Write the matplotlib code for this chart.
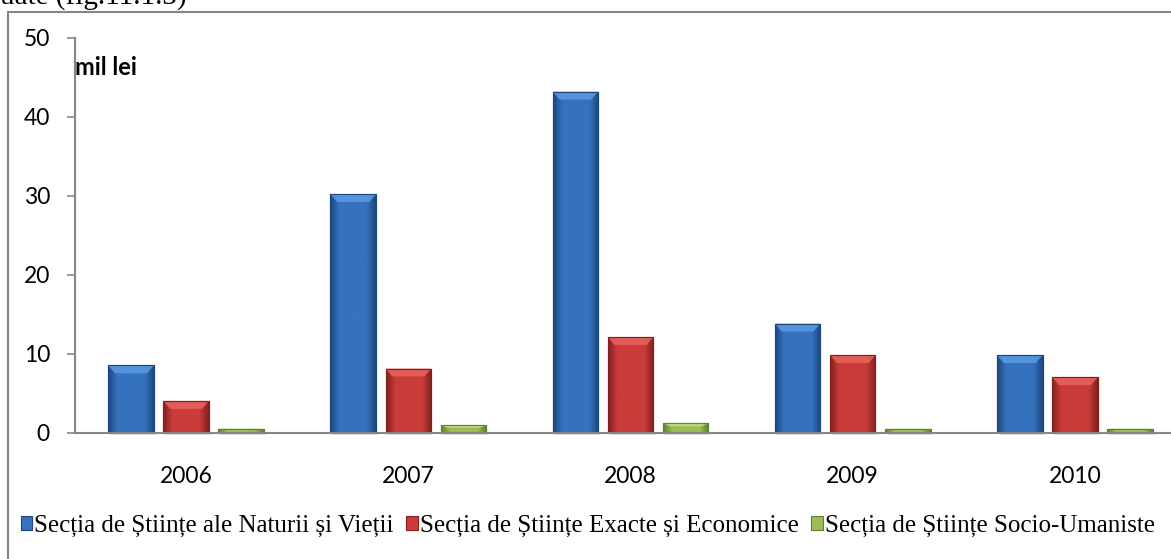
import matplotlib
matplotlib.use("Agg")
import matplotlib.pyplot as plt
import numpy as np
from matplotlib.patches import Rectangle, Polygon
from matplotlib.colors import LinearSegmentedColormap

years = ["2006", "2007", "2008", "2009", "2010"]
naturii = [8.5, 30.2, 43.2, 13.8, 9.8]
exacte = [4.0, 8.1, 12.1, 9.8, 7.0]
socio = [0.5, 0.9, 1.2, 0.5, 0.5]
series_names = ["Secția de Științe ale Naturii și Vieții",
                "Secția de Științe Exacte și Economice",
                "Secția de Științe Socio-Umaniste"]
yticks = [0, 10, 20, 30, 40, 50]

W, H = 1171, 559
fig = plt.figure(figsize=(W / 100, H / 100), dpi=100)
fig.patch.set_facecolor("white")

# outer chart frame (extends past right/bottom edge as in the cropped reference)
fig.add_artist(Rectangle((7.5 / W, -0.05), 1.2, 1 - 12 / H + 0.05,
                         transform=fig.transFigure, fill=False,
                         edgecolor="#868686", linewidth=1.5))
fig.text(0.0, 1 - 5 / H, "uate (fig.11.1.3)", family="Liberation Serif",
         fontsize=21, va="baseline", ha="left", color="black")

ax = fig.add_axes([75 / W, 126.5 / H, 1111 / W, 394.5 / H])
ax.set_xlim(-0.5, 4.5)
ax.set_ylim(0, 50)

colors = [("#5a9be3", "#3672bd", "#1c477f"),
          ("#e9625e", "#c93c3a", "#82201e"),
          ("#c3df7c", "#9cbd58", "#62802d")]
width = 0.205
offsets = [-0.248, 0.0, 0.248]
x = np.arange(len(years))
handles = []
for vals, off, (light, mid, dark), name in zip([naturii, exacte, socio], offsets, colors, series_names):
    bars = ax.bar(x + off, vals, width, color=mid, edgecolor=dark, linewidth=0.8,
                  label=name, zorder=3)
    handles.append(bars)
    cmap = LinearSegmentedColormap.from_list("g", [dark, mid, mid, mid, mid, dark])
    for b in bars:
        x0, y0 = b.get_x(), b.get_y()
        w, h = b.get_width(), b.get_height()
        grad = np.linspace(0, 1, 64).reshape(1, -1)
        im = ax.imshow(grad, cmap=cmap, extent=(x0, x0 + w, y0, y0 + h),
                       aspect="auto", zorder=3.5, interpolation="bicubic")
        im.set_clip_path(b)
        # top bevel
        bev = min(1.0, h * 0.35)
        inset = w * 0.15
        poly = Polygon([(x0, y0 + h), (x0 + w, y0 + h), (x0 + w - inset, y0 + h - bev),
                        (x0 + inset, y0 + h - bev)], closed=True,
                       facecolor=light, edgecolor="none", alpha=0.85, zorder=3.6)
        ax.add_patch(poly)
        ax.add_patch(Rectangle((x0, y0), w, h, fill=False, edgecolor=dark,
                               linewidth=0.8, zorder=3.7))
        # soft shadow
        ax.add_patch(Rectangle((x0 + w * 0.04, y0 - 0.35), w, 0.35, facecolor="#cccccc",
                               edgecolor="none", zorder=2, clip_on=False, alpha=0.6))

for s in ["top", "right"]:
    ax.spines[s].set_visible(False)
for s in ["left", "bottom"]:
    ax.spines[s].set_color("#868686")
    ax.spines[s].set_linewidth(1.5)
    ax.spines[s].set_zorder(4)
ax.set_yticks(yticks)
ax.set_xticks(x)
ax.set_xticklabels(years)
ax.tick_params(axis="y", length=6, width=1.2, color="#868686", pad=12,
               labelsize=16.5, labelcolor="black")
ax.tick_params(axis="x", length=0, pad=24, labelsize=16.5, labelcolor="black")
for lab in ax.get_xticklabels() + ax.get_yticklabels():
    lab.set_family("Lato")
ax.set_facecolor("none")

ax.text(0.0, 46.2, "mil lei", transform=ax.get_yaxis_transform(), family="Lato",
        fontweight="bold", fontsize=17, va="center", ha="left", color="black")

leg = fig.legend(handles=handles, labels=series_names, loc="center",
                 bbox_to_anchor=(0.502, 1 - 526 / H), ncol=3, frameon=False,
                 prop={"family": "Liberation Serif", "size": 18},
                 handlelength=0.45, handleheight=0.45, handletextpad=0.1,
                 columnspacing=0.5, borderaxespad=0)

fig.savefig("out.png", dpi=100)
